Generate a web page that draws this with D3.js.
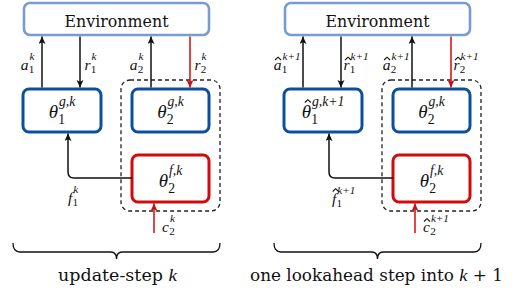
<!DOCTYPE html>
<html lang="en">
<head>
    <meta charset="utf-8">
    <title>Lookahead diagram</title>
    <script src="https://cdn.jsdelivr.net/npm/d3@7"></script>
    <style>
        body { margin: 0; background: #fff; }
    </style>
</head>
<body>
<script type="text/javascript">
    // text content of the two panels
    var envLabel = "Environment";
    var panelTitles = [
        [{t: "update-step "}, {t: "k", i: true}],
        [{t: "one lookahead step into "}, {t: "k", i: true}, {t: " + 1"}]
    ];
    // labels on the four vertical arrows: a1, r1, a2, r2
    var arrowLabels = [
        [{base: "a", sup: "k", sub: "1"}, {base: "r", sup: "k", sub: "1"},
         {base: "a", sup: "k", sub: "2"}, {base: "r", sup: "k", sub: "2"}],
        [{base: "a", hat: true, sup: "k+1", sub: "1"}, {base: "r", hat: true, sup: "k+1", sub: "1"},
         {base: "a", hat: true, sup: "k+1", sub: "2"}, {base: "r", hat: true, sup: "k+1", sub: "2"}]
    ];
    // parameter nodes: theta1 (g), theta2 (g), theta2 (f)
    var nodeLabels = [
        [{base: "θ", sup: "g,k", sub: "1"}, {base: "θ", sup: "g,k", sub: "2"}, {base: "θ", sup: "f,k", sub: "2"}],
        [{base: "θ", hat: true, sup: "g,k+1", sub: "1"}, {base: "θ", sup: "g,k", sub: "2"}, {base: "θ", sup: "f,k", sub: "2"}]
    ];
    var fLabels = [{base: "f", sup: "k", sub: "1"}, {base: "f", hat: true, sup: "k+1", sub: "1"}];
    var cLabels = [{base: "c", sup: "k", sub: "2"}, {base: "c", hat: true, sup: "k+1", sub: "2"}];

    var W = 515, H = 294;
    var envBlue = "#7a9bd2", darkBlue = "#0c4f9f", red = "#d10a0a";
    var mathFont = "Liberation Serif";
    var textFont = "DejaVu Serif";

    var svg = d3.select("body").append("svg")
        .attr("width", W).attr("height", H);

    var defs = svg.append("defs");
    [["black", "#111"], ["red", red]].forEach(function(m) {
        defs.append("marker")
            .attr("id", "head-" + m[0])
            .attr("markerUnits", "userSpaceOnUse")
            .attr("markerWidth", 9).attr("markerHeight", 8)
            .attr("refX", 7.5).attr("refY", 3.5)
            .attr("orient", "auto")
            .append("path")
            .attr("d", "M0,0 L7.5,3.5 L0,7 L1.8,3.5 Z")
            .attr("fill", m[1]);
    });

    // draws a math-like label; anchor: "start", "end" or "middle"
    function mathLabel(g, spec, x, y, anchor, size) {
        size = size || 15.5;
        var lg = g.append("g");
        var base = lg.append("text")
            .attr("x", 0).attr("y", 0)
            .attr("font-family", mathFont)
            .attr("font-style", "italic")
            .attr("font-size", size)
            .attr("fill", "#111")
            .text(spec.base);
        var bw = base.node().getComputedTextLength();
        if (spec.hat) {
            // accent drawn as a small chevron above the letter
            var hy = {"θ": -15.5, "f": -12.5, "a": -9.5, "r": -9.5, "c": -10}[spec.base];
            var hx = bw / 2 + (spec.base === "a" || spec.base === "c" ? 0.5 : 1.5);
            lg.append("path")
                .attr("d", "M" + (hx - 3) + "," + hy + " L" + hx + "," + (hy - 2.8) + " L" + (hx + 3) + "," + hy)
                .attr("fill", "none")
                .attr("stroke", "#111")
                .attr("stroke-width", 1.1);
        }
        var ss = size * 0.72;
        var sup = lg.append("text")
            .attr("x", bw + 1).attr("y", -size * 0.62)
            .attr("font-family", mathFont)
            .attr("font-style", "italic")
            .attr("font-size", ss)
            .attr("fill", "#111")
            .text(spec.sup);
        var sub = lg.append("text")
            .attr("x", bw + 0.3).attr("y", size * (spec.base === "θ" ? 0.33 : 0.22))
            .attr("font-family", mathFont)
            .attr("font-size", ss)
            .attr("fill", "#111")
            .text(spec.sub);
        var tw = bw + 1 + Math.max(sup.node().getComputedTextLength(), sub.node().getComputedTextLength());
        var ox = anchor === "end" ? x - tw : anchor === "middle" ? x - tw / 2 : x;
        lg.attr("transform", "translate(" + ox + "," + y + ")");
        return lg;
    }

    var panelOffsets = [0, 261];
    var labelGaps = [[7, 4.5], [2.5, 2.5]];
    var titleLengths = [119, 253];

    panelOffsets.forEach(function(dx, p) {
        var g = svg.append("g").attr("transform", "translate(" + dx + ",0)");

        var boxes = [
            {x: 24, y: 3, w: 185, h: 32, c: envBlue, sw: 2.6},
            {x: 23, y: 89, w: 78, h: 43, c: darkBlue, sw: 3},
            {x: 132, y: 89, w: 77, h: 43, c: darkBlue, sw: 3},
            {x: 132, y: 155, w: 77, h: 47, c: red, sw: 3}
        ];

        // dashed group around theta2 nodes
        g.append("rect")
            .attr("x", 121).attr("y", 80).attr("width", 99).attr("height", 131)
            .attr("rx", 9)
            .attr("fill", "none")
            .attr("stroke", "#222")
            .attr("stroke-width", 1.3)
            .attr("stroke-dasharray", "4,3");

        g.selectAll("rect.box")
            .data(boxes)
            .enter()
            .append("rect")
            .attr("class", "box")
            .attr("x", function(d) { return d.x; })
            .attr("y", function(d) { return d.y; })
            .attr("width", function(d) { return d.w; })
            .attr("height", function(d) { return d.h; })
            .attr("rx", 6)
            .attr("fill", "#fff")
            .attr("stroke", function(d) { return d.c; })
            .attr("stroke-width", function(d) { return d.sw; });

        g.append("text")
            .attr("x", 116.5).attr("y", 26.5)
            .attr("text-anchor", "middle")
            .attr("font-family", textFont)
            .attr("font-size", 16)
            .attr("textLength", 104)
            .attr("lengthAdjust", "spacingAndGlyphs")
            .attr("fill", "#111")
            .text(envLabel);

        // vertical arrows between environment and the g-nodes
        var arrows = [
            {x: 42, up: true, col: "black", side: "end"},
            {x: 80, up: false, col: "black", side: "start"},
            {x: 151, up: true, col: "black", side: "end"},
            {x: 190, up: false, col: "red", side: "start"}
        ];
        arrows.forEach(function(a, i) {
            var y0 = a.up ? 87.5 : 36.5, y1 = a.up ? 36.5 : 87.5;
            g.append("line")
                .attr("x1", a.x).attr("x2", a.x)
                .attr("y1", y0).attr("y2", y1)
                .attr("stroke", a.col === "red" ? red : "#111")
                .attr("stroke-width", 1.5)
                .attr("marker-end", "url(#head-" + a.col + ")");
            var gap = a.side === "end" ? labelGaps[p][0] : labelGaps[p][1];
            mathLabel(g, arrowLabels[p][i], a.side === "end" ? a.x - gap : a.x + gap, 69.5, a.side);
        });

        // f-connection from theta2 f-node up to theta1
        g.append("path")
            .attr("d", "M132,178 H74 Q68,178 68,172 V133.5")
            .attr("fill", "none")
            .attr("stroke", "#111")
            .attr("stroke-width", 1.5)
            .attr("marker-end", "url(#head-black)");
        mathLabel(g, fLabels[p], p === 0 ? 68 : 71, p === 0 ? 203 : 204, "start");

        // c input arrow
        g.append("line")
            .attr("x1", 154).attr("x2", 154)
            .attr("y1", 233).attr("y2", 203.5)
            .attr("stroke", red)
            .attr("stroke-width", 1.5)
            .attr("marker-end", "url(#head-red)");
        mathLabel(g, cLabels[p], 162, 231.5, "start");

        // node labels
        var centers = [[62, 118], [170.5, 118], [170.5, 187]];
        nodeLabels[p].forEach(function(lab, i) {
            mathLabel(g, lab, centers[i][0], centers[i][1], "middle", 19);
        });

        // brace
        var bx0 = 13, bx1 = 220, bm = 116.5, by0 = 243, by1 = 252, by2 = 259;
        g.append("path")
            .attr("d", "M" + bx0 + "," + by0 + " Q" + bx0 + "," + by1 + " " + (bx0 + 7) + "," + by1 +
                " L" + (bm - 6) + "," + by1 + " Q" + bm + "," + by1 + " " + bm + "," + by2 +
                " Q" + bm + "," + by1 + " " + (bm + 6) + "," + by1 +
                " L" + (bx1 - 7) + "," + by1 + " Q" + bx1 + "," + by1 + " " + bx1 + "," + by0)
            .attr("fill", "none")
            .attr("stroke", "#111")
            .attr("stroke-width", 1.3);

        var title = g.append("text")
            .attr("x", p === 0 ? 117.5 : 115.5).attr("y", 281)
            .attr("text-anchor", "middle")
            .attr("font-family", textFont)
            .attr("font-size", 16)
            .attr("textLength", titleLengths[p])
            .attr("lengthAdjust", "spacingAndGlyphs")
            .attr("fill", "#111");
        title.selectAll("tspan")
            .data(panelTitles[p])
            .enter()
            .append("tspan")
            .attr("font-family", function(d) { return d.i ? mathFont : textFont; })
            .attr("font-style", function(d) { return d.i ? "italic" : "normal"; })
            .attr("font-size", function(d) { return d.i ? 17.5 : 16; })
            .text(function(d) { return d.t; });
    });
</script>
</body>
</html>
